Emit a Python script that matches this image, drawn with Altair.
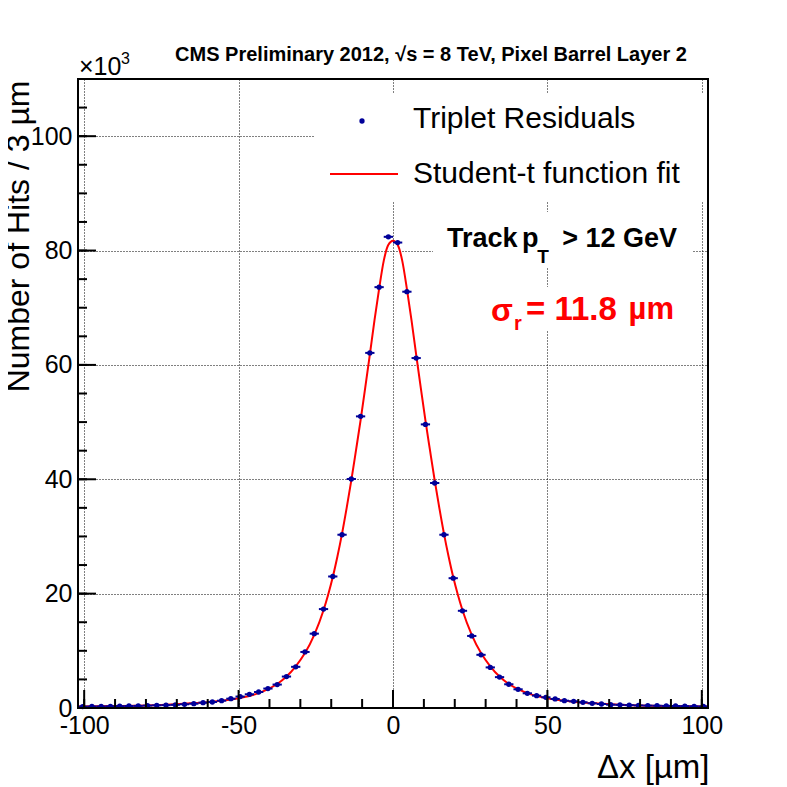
import altair as alt
import pandas as pd

# ---------------- data (values in units of 10^3 hits) ----------------
bin_centers = [-100.5 + 3 * i for i in range(68)]
counts_k = [
    0.25, 0.27, 0.28, 0.30, 0.32, 0.35, 0.37, 0.42, 0.47, 0.50,
    0.55, 0.65, 0.75, 0.93, 1.05, 1.28, 1.63, 2.00, 2.40, 2.80,
    3.40, 4.10, 5.50, 7.20, 9.80, 13.0, 17.3, 23.0, 30.3, 40.05,
    51.0, 62.1, 73.6, 82.4,
    81.4, 72.8, 61.2, 49.6, 39.35, 30.3, 22.7, 17.0, 12.6, 9.3,
    7.1, 5.4, 4.15, 3.27, 2.57, 2.16, 1.87, 1.58, 1.28, 1.17,
    1.00, 0.82, 0.70, 0.58, 0.55, 0.50, 0.45, 0.42, 0.40, 0.37,
    0.35, 0.33, 0.30, 0.28,
]
bin_half_width = 1.5

fit_x = [-102, -90, -80, -70.5, -61.5, -55.5, -49.5, -46.5, -43.5, -40.5,
         -37.5, -34.5, -31.5, -28.5, -25.5, -22.5, -21, -19.5, -18, -16.5,
         -15, -13.5, -12, -10.5, -9, -7.5, -6, -4.5, -3, -1.5, 0,
         1.5, 3, 4.5, 6, 7.5, 9, 10.5, 12, 13.5, 15, 16.5, 18, 19.5, 21, 22.5,
         25.5, 28.5, 31.5, 34.5, 37.5, 40.5, 43.5, 46.5, 49.5, 55.5, 61.5,
         70.5, 80, 90, 102]
fit_y = [0.27, 0.35, 0.45, 0.65, 0.95, 1.25, 1.75, 2.1, 2.6, 3.3,
         4.2, 5.5, 7.3, 9.6, 12.8, 17.1, 19.8, 22.9, 26.5, 30.5,
         35.0, 39.8, 45.0, 50.3, 56.0, 61.8, 67.8, 73.3, 78.2, 81.0, 81.7,
         81.0, 78.2, 73.3, 67.8, 61.8, 56.0, 50.3, 45.0, 39.8, 35.0, 30.5, 26.5, 22.9, 19.8, 17.1,
         12.8, 9.6, 7.3, 5.5, 4.2, 3.3, 2.6, 2.1, 1.75, 1.25, 0.95,
         0.65, 0.45, 0.35, 0.27]

x_major = [-100, -50, 0, 50, 100]
x_minor = list(range(-100, 101, 10))
y_major = [0, 20, 40, 60, 80, 100]
y_minor = list(range(0, 111, 5))

title_text = "CMS Preliminary 2012,  \u221as = 8 TeV, Pixel Barrel Layer 2"
x_title = "\u0394x [\u00b5m]"
y_title = "Number of Hits / 3 \u00b5m"
leg_labels = ["Triplet Residuals", "Student-t function fit"]

# ---------------- layout ----------------
W, H = 630, 629
FONT = "Liberation Sans"
BLUE = "#000099"
RED = "#ff0000"
LABEL_EXPR = "datum.value < 0 ? '-' + abs(datum.value) : '' + datum.value"

xs = alt.Scale(domain=[-102, 102], nice=False, zero=False)
ys = alt.Scale(domain=[0, 110], nice=False, zero=False)

ax_x = alt.Axis(values=x_major, ticks=False, domain=False, grid=True,
                gridDash=[1, 2], gridColor="black", gridOpacity=1, gridWidth=1,
                labelFontSize=25, labelFont=FONT, labelColor="black",
                labelPadding=5, labelFlush=False, labelOverlap=False,
                labelExpr=LABEL_EXPR,
                title=x_title, titleFont=FONT, titleFontSize=33,
                titleFontWeight="normal", titleColor="black",
                titleAnchor="end", titleAlign="right", titleBaseline="alphabetic",
                titleX=W + 1, titleY=69)
ax_y = alt.Axis(values=y_major, ticks=False, domain=False, grid=True,
                gridDash=[1, 2], gridColor="black", gridOpacity=1, gridWidth=1,
                labelFontSize=25, labelFont=FONT, labelColor="black",
                labelPadding=6, labelOverlap=False, labelFlush=False,
                title=y_title, titleFont=FONT, titleFontSize=32,
                titleFontWeight="normal", titleColor="black",
                titleAnchor="end", titleAlign="right", titleBaseline="alphabetic",
                titleAngle=270, titleX=-50, titleY=1)

hist = pd.DataFrame({"x": bin_centers, "y": counts_k})
hist["lo"] = hist["x"] - bin_half_width
hist["hi"] = hist["x"] + bin_half_width
fit = pd.DataFrame({"x": fit_x, "y": fit_y})
one = alt.Data(values=[{"a": 1}])

X = lambda f: alt.X(f, type="quantitative", scale=xs, axis=ax_x)
Y = lambda f: alt.Y(f, type="quantitative", scale=ys, axis=ax_y)

# grid-carrying base layer (invisible)
base = alt.Chart(fit).mark_line(opacity=0).encode(x=X("x"), y=Y("y"))

# white boxes (legend / text panels)
def box(x1, x2, y1, y2):
    return alt.Chart(one).mark_rect(fill="white").encode(
        x=alt.value(x1), x2=alt.value(x2), y=alt.value(y1), y2=alt.value(y2))

boxes = [box(236, 629, 14, 123), box(355, 615, 133, 188), box(392, 615, 208, 251)]

curve = alt.Chart(fit).mark_line(color=RED, strokeWidth=2, interpolate="monotone").encode(
    x=X("x"), y=Y("y"))

errx = alt.Chart(hist).mark_rule(color=BLUE, strokeWidth=2).encode(
    x=X("lo"), x2="hi", y=Y("y"))
pts = alt.Chart(hist).mark_circle(color=BLUE, size=28, opacity=1).encode(
    x=X("x"), y=Y("y"))

def xticks(vals, length):
    return alt.Chart(pd.DataFrame({"v": vals})).mark_rule(color="black", strokeWidth=2).encode(
        x=X("v"), y=alt.value(H), y2=alt.value(H - length))

def yticks(vals, length):
    return alt.Chart(pd.DataFrame({"v": vals})).mark_rule(color="black", strokeWidth=2).encode(
        y=Y("v"), x=alt.value(0), x2=alt.value(length))

ticks = [xticks(x_minor, 9), xticks(x_major, 18), yticks(y_minor, 9), yticks(y_major, 18)]

frame = alt.Chart(one).mark_rect(fillOpacity=0, stroke="black", strokeWidth=2).encode(
    x=alt.value(0), x2=alt.value(W), y=alt.value(0), y2=alt.value(H))

def txt(s, x, y, size, weight="normal", color="black", align="left", baseline="middle"):
    return alt.Chart(one).mark_text(text=s, fontSize=size, fontWeight=weight, color=color,
                                    align=align, baseline=baseline, font=FONT).encode(
        x=alt.value(x), y=alt.value(y))

texts = [
    txt(title_text, 353, -24, 20, weight="bold", align="center"),
    txt("\u00d710", 1, -4, 25, baseline="alphabetic"),
    txt("3", 43, -15, 16, baseline="alphabetic"),
    txt(leg_labels[0], 335, 40, 30),
    txt(leg_labels[1], 335, 95, 30),
    txt("Track", 369, 160, 27, weight="bold"),
    txt("p", 444, 160, 27, weight="bold"),
    txt("T", 465, 178, 19, weight="bold", align="center"),
    txt("> 12 GeV", 599, 160, 27, weight="bold", align="right"),
    txt("\u03c3", 413, 232, 32, weight="bold", color=RED),
    txt("r", 436, 245, 20, weight="bold", color=RED),
    txt("= 11.8", 448, 231, 33, weight="bold", color=RED),
    txt("\u00b5m", 596, 231, 31, weight="bold", color=RED, align="right"),
]

leg_marker = alt.Chart(one).mark_circle(color=BLUE, size=28, opacity=1).encode(
    x=alt.value(284), y=alt.value(42))
leg_line = alt.Chart(one).mark_rule(color=RED, strokeWidth=2).encode(
    x=alt.value(252), x2=alt.value(320), y=alt.value(95))

chart = alt.layer(
    base, *boxes, curve, errx, pts, *ticks, frame, leg_marker, leg_line, *texts
).properties(
    width=W, height=H,
    padding={"left": 70, "top": 71, "right": 60, "bottom": 77},
    autosize=alt.AutoSizeParams(type="none"),
).configure_view(stroke=None)

chart.save("out.html", embed_options={"renderer": "svg", "actions": False})
